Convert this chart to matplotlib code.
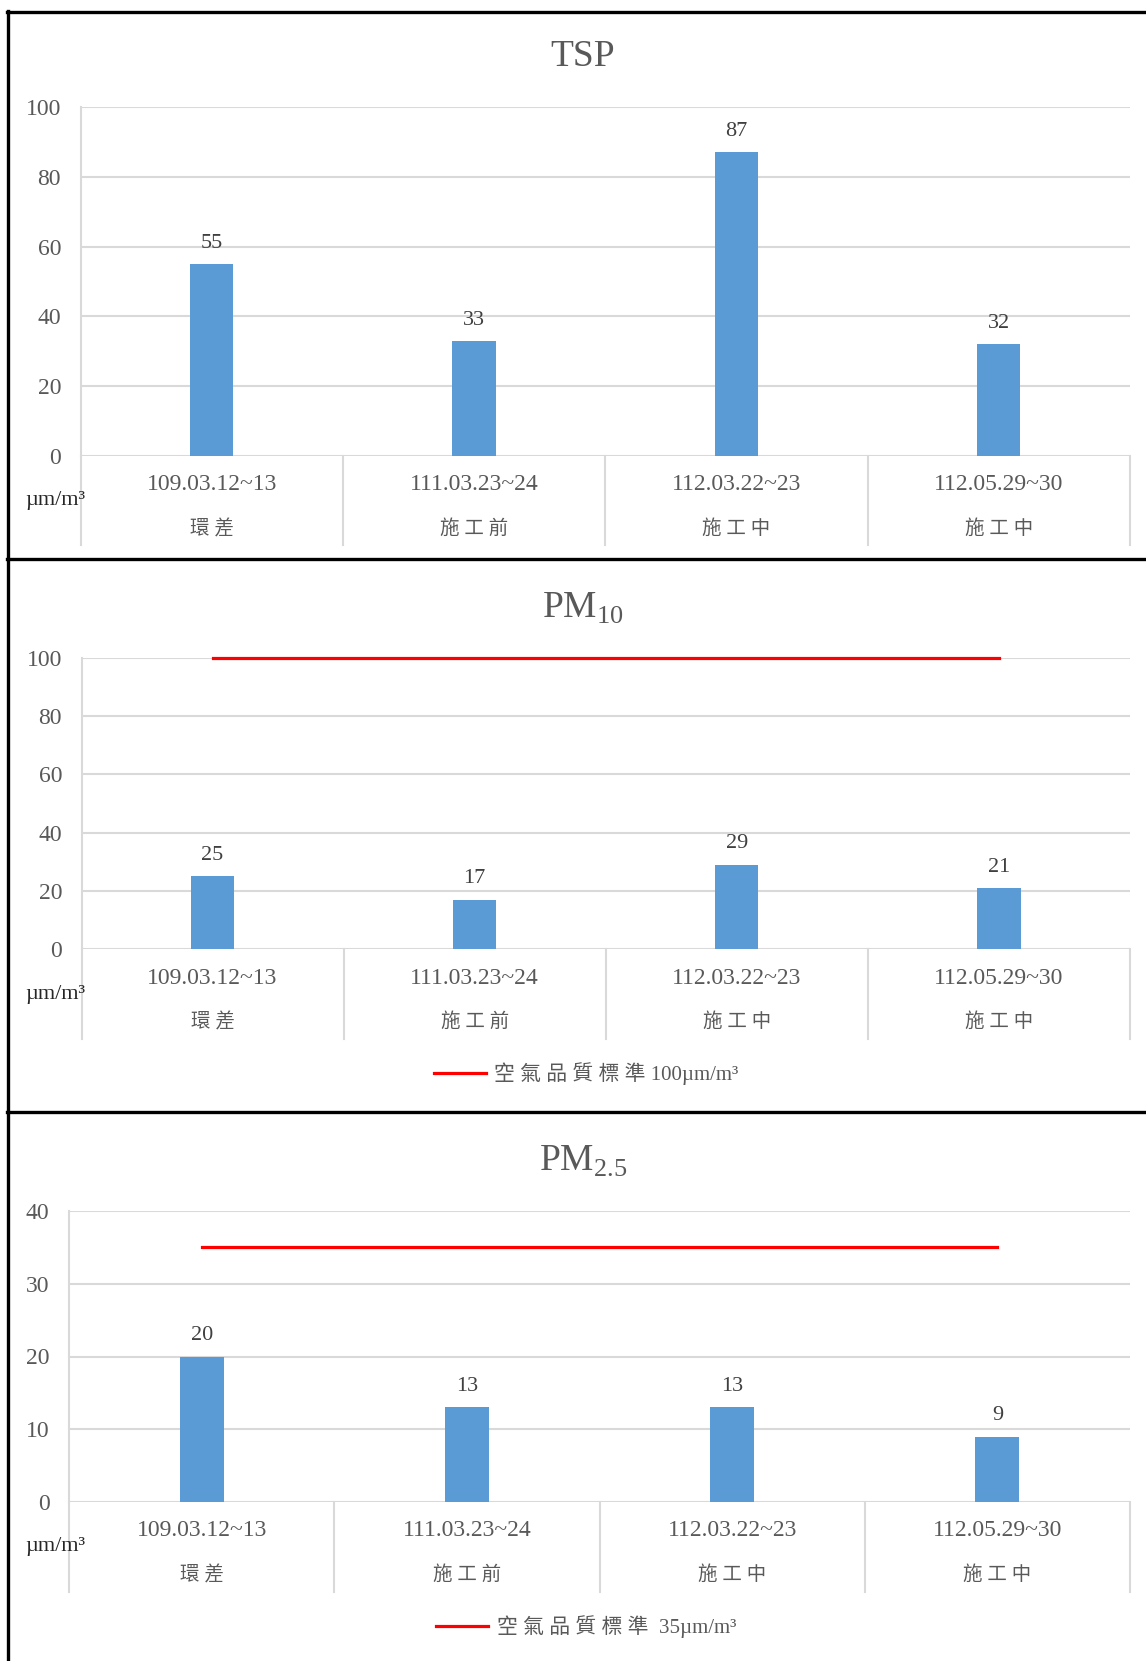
import matplotlib
matplotlib.use('Agg')
import matplotlib.pyplot as plt
from matplotlib.lines import Line2D

plt.rcParams['font.family'] = ['Liberation Serif', 'Noto Sans CJK TC']

dates = ['109.03.12~13', '111.03.23~24', '112.03.22~23', '112.05.29~30']
stages = ['環 差', '施 工 前', '施 工 中', '施 工 中']
tsp = [55, 33, 87, 32]
pm10 = [25, 17, 29, 21]
pm25 = [20, 13, 13, 9]
pm10_std = 100
pm25_std = 35
pm10_std_label = '空 氣 品 質 標 準 100µm/m³'
pm25_std_label = '空 氣 品 質 標 準  35µm/m³'

W, H = 1146, 1661
GREY = '#595959'
GRID = '#D9D9D9'
BAR = '#5B9BD5'
RED = '#FF0000'

fig = plt.figure(figsize=(W / 100, H / 100), dpi=100)


def fx(x):
    return x / W


def fy(y):
    return 1 - y / H


def panel(box, sep_bottom, title, values, ymax, step, std=None, std_label=None, legend_y=None):
    left, top, right, bottom = box
    h = bottom - top
    ax = fig.add_axes([fx(left), fy(bottom), fx(right - left), (bottom - top) / H])
    ax.set_xlim(-0.5, 3.5)
    ax.set_ylim(0, ymax)
    ax.set_yticks(range(0, ymax + 1, step))
    ax.tick_params(axis='y', length=0, pad=14, labelsize=17, labelcolor=GREY)
    ax.set_xticks([])
    ax.grid(axis='y', color=GRID, linewidth=1.5)
    ax.set_axisbelow(True)
    for s in ['top', 'right', 'bottom']:
        ax.spines[s].set_visible(False)
    ax.spines['left'].set_color(GRID)
    ax.spines['left'].set_linewidth(1.5)

    x = range(len(values))
    bars = ax.bar(x, values, width=0.165, color=BAR, zorder=2)
    for b, v in zip(bars, values):
        ax.annotate(str(v), (b.get_x() + b.get_width() / 2, v), xytext=(0, 8),
                    textcoords='offset points', ha='center', va='bottom',
                    fontsize=16, color='#404040')

    tr = ax.get_xaxis_transform()
    for b in [-0.5, 0.5, 1.5, 2.5, 3.5]:
        ax.plot([b, b], [0, -(sep_bottom - bottom) / h], transform=tr,
                color=GRID, linewidth=1.5, clip_on=False)
    for i in x:
        ax.text(i, -29 / h, dates[i], transform=tr, ha='center', va='center',
                fontsize=17, color=GREY)
        ax.text(i, -73 / h, stages[i], transform=tr, ha='center', va='center',
                fontsize=14, color=GREY)
    fig.text(fx(55), fy(bottom + 45), 'µm/m³', ha='center', va='center',
             fontsize=16, color='#262626')
    fig.text(fx(583), fy(top - 50), title, ha='center', va='center',
             fontsize=27, color=GREY)

    if std is not None:
        line, = ax.plot([0, 3], [std, std], color=RED, linewidth=2.3,
                        clip_on=False, zorder=3)
        fig.legend([line], [std_label], loc='center',
                   bbox_to_anchor=(fx(586), fy(legend_y)), frameon=False,
                   fontsize=15, handlelength=2.5, handletextpad=0.4,
                   labelcolor=GREY)
    return ax


panel((80.5, 107, 1130, 456), 545, 'TSP', tsp, 100, 20)
panel((81.5, 658, 1130, 949), 1039, r'PM$_{\mathregular{10}}$', pm10, 100, 20,
      pm10_std, pm10_std_label, 1074)
panel((69, 1211, 1130, 1502), 1592, r'PM$_{\mathregular{2.5}}$', pm25, 40, 10,
      pm25_std, pm25_std_label, 1627)

# outer frame and panel dividers
for xs, ys in [([7.5, 7.5], [11, H]), ([7, W], [11.5, 11.5]),
               ([7, W], [559, 559]), ([7, W], [1112, 1112])]:
    fig.add_artist(Line2D([fx(v) for v in xs], [fy(v) for v in ys],
                          color='black', linewidth=2.4))

fig.savefig('out.png', dpi=100)
